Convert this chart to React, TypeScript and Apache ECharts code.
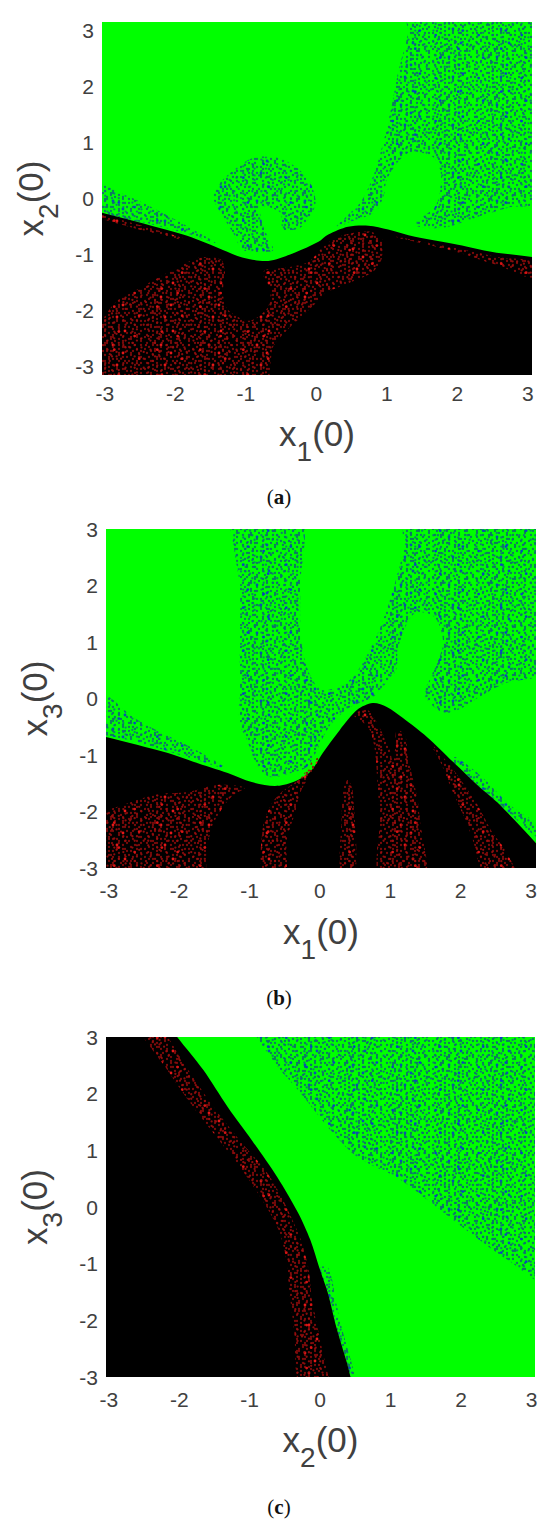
import React, { useEffect, useRef } from "react";
import * as echarts from "echarts";

type Poly = number[][];

const tickLabels = [-3, -2, -1, 0, 1, 2, 3];

// Panel (a): x1(0) against x2(0)
const aBlack: Poly = [[-3.5,-0.10],[-3.04,-0.25],[-1.89,-0.64],[-1.40,-0.875],[-1.05,-1.05],[-0.68,-1.11],[-0.30,-0.96],[0.03,-0.77],[0.17,-0.64],[0.45,-0.50],[0.74,-0.48],[1.02,-0.55],[1.40,-0.68],[2.01,-0.82],[2.50,-0.95],[3.06,-1.04],[3.5,-1.12],[3.5,-3.6],[-3.5,-3.6]];
const aRedMain: Poly = [[-3.04,-2.20],[-2.84,-1.84],[-2.60,-1.66],[-2.30,-1.45],[-1.94,-1.21],[-1.65,-1.05],[-1.35,-1.09],[-1.30,-1.30],[-1.32,-1.50],[-1.30,-1.89],[-1.19,-2.05],[-0.95,-2.18],[-0.71,-1.98],[-0.65,-1.68],[-0.75,-1.30],[-0.41,-1.23],[-0.11,-1.125],[0.13,-0.82],[0.41,-0.64],[0.77,-0.59],[0.94,-0.73],[0.94,-1.0],[0.91,-1.125],[0.79,-1.32],[0.48,-1.50],[0.14,-1.68],[-0.06,-1.93],[-0.21,-2.11],[-0.41,-2.34],[-0.61,-2.64],[-0.65,-2.93],[-0.72,-3.3],[-3.3,-3.3]];
const aRedRight: Poly = [[1.12,-0.68],[2.01,-0.89],[2.61,-1.05],[3.06,-1.125],[3.06,-1.41],[2.62,-1.21],[2.23,-1.05],[1.99,-0.95]];
const aRedEdge: Poly = [[-3.04,-0.29],[-1.89,-0.70],[-1.89,-0.74],[-3.04,-0.36]];
const aBlueLeft: Poly = [[-3.04,0.25],[-2.82,0.125],[-2.50,-0.05],[-2.11,-0.30],[-1.79,-0.52],[-1.43,-0.79],[-1.79,-0.64],[-2.35,-0.45],[-3.04,-0.25]];
const aBlueBlob: Poly = [[-0.84,0.75],[-0.47,0.70],[-0.13,0.375],[-0.01,-0.02],[-0.06,-0.25],[-0.23,-0.52],[-0.47,-0.55],[-0.51,-0.25],[-0.79,-0.14],[-0.75,-0.50],[-0.61,-0.91],[-0.75,-0.95],[-1.04,-0.91],[-1.18,-0.61],[-1.32,-0.32],[-1.46,0.02],[-1.36,0.29],[-1.22,0.46],[-1.04,0.64]];
const aBlueRight: Poly = [[1.30,3.3],[1.30,2.96],[1.16,2.25],[1.02,1.36],[0.84,0.52],[0.65,-0.02],[0.41,-0.34],[0.27,-0.52],[0.48,-0.41],[0.84,-0.23],[0.96,0.07],[1.01,0.375],[1.30,0.82],[1.65,0.75],[1.77,0.43],[1.70,-0.11],[1.40,-0.46],[1.79,-0.52],[2.35,-0.30],[2.72,-0.16],[3.2,-0.02],[3.2,3.3]];

// Panel (b): x1(0) against x3(0)
const bBlack: Poly = [[-3.6,-0.52],[-3.04,-0.68],[-2.16,-0.965],[-1.80,-1.12],[-1.31,-1.32],[-0.97,-1.48],[-0.64,-1.55],[-0.38,-1.48],[-0.14,-1.30],[0.04,-0.965],[0.28,-0.56],[0.53,-0.20],[0.75,-0.08],[0.95,-0.15],[1.18,-0.345],[1.52,-0.68],[1.89,-1.12],[2.27,-1.57],[2.53,-1.85],[3.07,-2.56],[3.6,-3.3],[3.6,-3.6],[-3.6,-3.6]];
const bRedWedge: Poly = [[-3.2,-1.9],[-3.04,-1.97],[-2.36,-1.71],[-1.86,-1.65],[-1.46,-1.53],[-1.07,-1.58],[-1.26,-1.74],[-1.51,-2.20],[-1.61,-2.68],[-1.68,-3.2],[-3.2,-3.2]];
const bRedBand2: Poly = [[0,-1.035],[-0.14,-1.35],[-0.28,-1.67],[-0.355,-2.03],[-0.47,-2.50],[-0.50,-3.2],[-0.81,-3.2],[-0.81,-2.27],[-0.68,-1.85],[-0.54,-1.65],[-0.28,-1.41],[-0.11,-1.12]];
const bRedBand3: Poly = [[0.40,-1.44],[0.47,-1.67],[0.50,-3.2],[0.30,-3.2],[0.31,-2.03],[0.34,-1.57]];
const bRedBand4: Poly = [[0.47,-0.29],[0.67,-0.20],[0.81,-0.43],[0.99,-0.91],[1.04,-1.14],[1.07,-0.86],[1.09,-0.56],[1.21,-0.65],[1.25,-1.035],[1.38,-1.74],[1.42,-2.15],[1.49,-3.2],[0.85,-3.2],[0.85,-2.15],[0.82,-1.57],[0.78,-0.91],[0.71,-0.56],[0.57,-0.38]];
const bRedBand5: Poly = [[1.56,-0.77],[1.92,-1.30],[2.24,-1.885],[2.43,-2.33],[2.63,-2.68],[2.80,-3.2],[2.37,-3.2],[2.17,-2.50],[2.07,-2.15],[1.875,-1.62],[1.70,-1.09]];
const bBlueLeft: Poly = [[-3.3,0.06],[-3.04,0.06],[-2.70,-0.29],[-2.30,-0.575],[-1.76,-0.91],[-1.35,-1.23],[-1.85,-1.05],[-2.41,-0.84],[-3.04,-0.65],[-3.3,-0.65]];
const bBlueMain: Poly = [[-1.26,3.2],[-1.24,2.81],[-1.14,1.97],[-1.14,0.81],[-1.14,0.03],[-1.16,-0.38],[-1.04,-0.73],[-0.88,-1.21],[-0.71,-1.39],[-0.41,-1.32],[-0.17,-1.19],[0.13,-0.50],[0.43,-0.15],[0.74,0.01],[0.85,0.15],[1.08,0.50],[1.11,0.91],[1.34,1.51],[1.63,1.44],[1.75,0.98],[1.59,0.42],[1.49,0.06],[1.73,-0.24],[1.97,-0.20],[2.27,0.03],[2.63,0.27],[3.2,0.50],[3.2,3.2],[1.24,3.2],[1.18,2.58],[0.98,1.69],[0.78,1.04],[0.43,0.33],[0.03,0.15],[-0.17,0.50],[-0.27,1.09],[-0.28,1.97],[-0.28,3.2]];
const bBlueEdge: Poly = [[1.92,-1.035],[2.27,-1.35],[2.70,-1.885],[3.2,-2.33],[3.2,-2.56],[2.53,-1.85],[1.89,-1.12]];

// Panel (c): x2(0) against x3(0)
const cBlack: Poly = [[-2.4,3.6],[-2.03,3.0],[-1.66,2.42],[-1.31,1.76],[-0.97,1.18],[-0.61,0.53],[-0.31,-0.11],[-0.14,-0.58],[-0.01,-1.08],[0.11,-1.52],[0.23,-2.12],[0.38,-2.75],[0.43,-3.0],[0.55,-3.6],[-3.6,-3.6],[-3.6,3.6]];
const cRedBand: Poly = [[-2.59,3.2],[-2.20,2.47],[-1.80,1.76],[-1.36,1.06],[-1.01,0.48],[-0.61,-0.35],[-0.47,-0.99],[-0.44,-1.46],[-0.37,-2.17],[-0.28,-3.2],[0.11,-3.2],[0.03,-2.52],[-0.11,-1.69],[-0.17,-1.06],[-0.31,-0.46],[-0.71,0.53],[-1.11,1.13],[-1.51,1.76],[-1.90,2.47],[-2.30,3.2]];
const cBlueMain: Poly = [[-0.91,3.2],[-0.67,2.59],[-0.31,2.06],[0.18,1.31],[0.53,0.88],[1.08,0.53],[1.53,0.12],[2.13,-0.46],[2.67,-0.94],[3.2,-1.3],[3.2,3.2]];
const cBlueEdge: Poly = [[-0.01,-1.08],[0.12,-1.08],[0.28,-2.0],[0.53,-3.2],[0.43,-3.2],[0.23,-2.12],[0.11,-1.52]];

// Speckle textures (style only): hand-typed tiles, a = faint dot, b = strong dot
const TILE_A = [
  "a..a...aa....a...a..a...",
  "..a....a...a....aa....a.",
  ".....a...a...a........a.",
  ".a..aa.......a..a.a.....",
  "....a...b..a.......a..a.",
  "..a.....a....aa.a.......",
  "a....a.....a........a...",
  "...a.a.aa......a..a...a.",
  ".a.........a.b...a...a..",
  "....a..a...a.....a......",
  "..a...a......a.a.....aa.",
  "a.....a.a.a.......a.....",
  "...aa......a..a.a...a...",
  ".a....a........a......a.",
  "....a...a.b..a.....a.a..",
  "..a...a...a......a......",
  "a...a.....a..aa.....a.a.",
  "......a.a......a.a......",
  ".a.a.......a.......a..a.",
  "...a..aa......a.a...a...",
  "a.......a..a......a.....",
  "..a.a......a..b.......a.",
  "......a..a.....a.a.a....",
  ".a..a...a...a.......a...",
];
const TILE_B = [
  "..a....a....a...a..",
  "a....a...........a.",
  "...a.....a..b......",
  "......a......a...a.",
  "....a.....a........",
  "..a........a.a.....",
  "....b.a........a...",
  "..........a........",
  ".a.a....a.......a..",
  "............a......",
  "..a...a.a........a.",
  "...........a..a....",
  "...a....a..........",
  ".a..........a.b....",
  "....a........a.....",
  "..b.....a.......a..",
  ".....a......a......",
  "...a.....a.......a.",
  ".a.........a..a....",
];

const makeTile = (rows: string[], size: number, faint: string, strong: string) => {
  const canvas = document.createElement("canvas");
  canvas.width = size;
  canvas.height = size;
  const cw = size / rows[0].length;
  const ch0 = size / rows.length;
  const ctx = canvas.getContext("2d")!;
  rows.forEach((row, y) => {
    row.split("").forEach((ch, x) => {
      if (ch === ".") return;
      ctx.fillStyle = ch === "b" ? strong : faint;
      ctx.beginPath();
      ctx.arc((x + 0.5) * cw, (y + 0.5) * ch0, ch === "b" ? 1.4 : 1.15, 0, Math.PI * 2);
      ctx.fill();
    });
  });
  return { image: canvas, repeat: "repeat", imageWidth: size, imageHeight: size };
};

const FONT = "'Liberation Sans', Arial, sans-serif";
const INK = "#404040";

const axisName = (v: string, sub: string) => `{v|${v}}{s|${sub}}{v|(0)}`;
const nameRich = {
  v: { fontSize: 35, fontFamily: FONT, color: INK, height: 36, verticalAlign: "top" },
  s: { fontSize: 28, fontFamily: FONT, color: INK, padding: [22, 0, 0, 0], verticalAlign: "bottom" },
};

const polySeries = (gridIndex: number, polys: Poly[], fill: any) => ({
  type: "custom",
  xAxisIndex: gridIndex,
  yAxisIndex: gridIndex,
  silent: true,
  clip: true,
  data: polys.map((_, i) => [i, 0]),
  renderItem: (params: any, api: any) => ({
    type: "polygon",
    shape: { points: polys[params.dataIndex].map((p) => api.coord(p)), smooth: 0.3 },
    style: { fill, stroke: "none" },
  }),
});

const xAxisFor = (gridIndex: number, range: number[], v: string, sub: string, gap: number, margin: number) => ({
  type: "value",
  gridIndex,
  min: range[0],
  max: range[1],
  splitLine: { show: false },
  axisLine: { show: false },
  axisTick: { show: false },
  axisLabel: { customValues: tickLabels, fontSize: 21, fontFamily: FONT, color: INK, margin },
  name: axisName(v, sub),
  nameLocation: "middle",
  nameGap: gap,
  nameTextStyle: { rich: nameRich },
});

const yAxisFor = (gridIndex: number, range: number[], v: string, sub: string, gap: number) => ({
  type: "value",
  gridIndex,
  min: range[0],
  max: range[1],
  splitLine: { show: false },
  axisLine: { show: false },
  axisTick: { show: false },
  axisLabel: { customValues: tickLabels, fontSize: 21, fontFamily: FONT, color: INK, margin: 8 },
  name: axisName(v, sub),
  nameLocation: "middle",
  nameRotate: 90,
  nameGap: gap,
  nameTextStyle: { rich: nameRich },
});

const caption = (letter: string, y: number) => ({
  type: "text",
  x: 279,
  y,
  style: {
    text: `{p|(}{b|${letter}}{p|)}`,
    align: "center",
    verticalAlign: "middle",
    rich: {
      p: { fontSize: 21, fontFamily: "'Liberation Serif', serif", fill: "#111", color: "#111" },
      b: { fontSize: 21, fontWeight: "bold", fontFamily: "'Liberation Serif', serif", fill: "#111", color: "#111" },
    },
  },
});

export default function App() {
  const ref = useRef<HTMLDivElement>(null);
  useEffect(() => {
    const chart = echarts.init(ref.current!, undefined, { renderer: "svg" });
    const blueA = makeTile(TILE_A, 48, "rgba(15,105,110,0.9)", "rgba(10,70,190,0.95)");
    const blueB = makeTile(TILE_B, 43, "rgba(15,100,130,0.8)", "rgba(10,60,200,0.95)");
    const redA = makeTile(TILE_A, 48, "rgba(135,12,12,0.9)", "rgba(230,25,25,1)");
    const redB = makeTile(TILE_B, 43, "rgba(160,15,15,0.85)", "rgba(215,20,20,1)");

    const panel = (g: number, blue: Poly[], black: Poly[], red: Poly[]) => [
      polySeries(g, blue, blueA),
      polySeries(g, blue, blueB),
      polySeries(g, black, "#000000"),
      polySeries(g, red, redA),
      polySeries(g, red, redB),
    ];

    const gridStyle = { show: true, backgroundColor: "#00ff00", borderWidth: 0, containLabel: false, outerBoundsMode: "none" };
    chart.setOption({
      animation: false,
      backgroundColor: "#ffffff",
      grid: [
        { left: 102, top: 22, width: 430, height: 353, ...gridStyle },
        { left: 106, top: 529, width: 430, height: 339, ...gridStyle },
        { left: 106, top: 1037, width: 429, height: 340, ...gridStyle },
      ],
      xAxis: [
        xAxisFor(0, [-3.04, 3.06], "x", "1", 40, 8),
        xAxisFor(1, [-3.04, 3.07], "x", "1", 45, 12),
        xAxisFor(2, [-3.04, 3.05], "x", "2", 44, 12),
      ],
      yAxis: [
        yAxisFor(0, [-3.15, 3.16], "x", "2", 40),
        yAxisFor(1, [-3, 3], "x", "3", 40),
        yAxisFor(2, [-3, 3], "x", "3", 40),
      ],
      series: [
        ...panel(0, [aBlueLeft, aBlueBlob, aBlueRight], [aBlack], [aRedMain, aRedRight, aRedEdge]),
        ...panel(1, [bBlueLeft, bBlueMain, bBlueEdge], [bBlack], [bRedWedge, bRedBand2, bRedBand3, bRedBand4, bRedBand5]),
        ...panel(2, [cBlueMain, cBlueEdge], [cBlack], [cRedBand]),
      ],
      graphic: [caption("a", 497), caption("b", 998), caption("c", 1507)],
    });
    return () => chart.dispose();
  }, []);
  return <div ref={ref} style={{ position: "absolute", left: 0, top: 0, width: 550, height: 1529 }} />;
}
